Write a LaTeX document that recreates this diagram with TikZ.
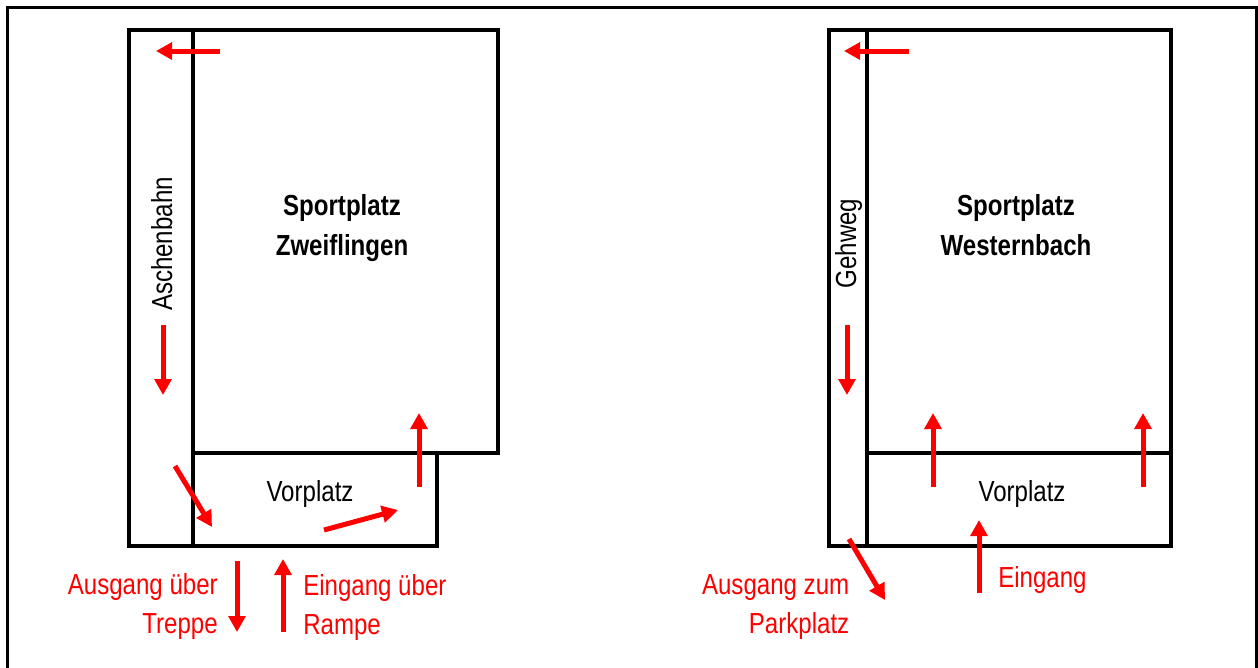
\documentclass[tikz,border=0pt]{standalone}
\usepackage{fontspec}
\setmainfont[FakeStretch=0.83]{Liberation Sans}
\usetikzlibrary{arrows.meta}
\definecolor{arrowred}{RGB}{255,0,0}
\tikzset{
  x=0.75pt,y=-0.75pt,
  wall/.style={draw=black,line width=3pt,line join=miter,line cap=butt},
  frameline/.style={draw=black,line width=2.2pt},
  flow/.style={draw=arrowred,line width=3.75pt,-{Triangle[length=12pt,width=12.5pt]}},
  lbl/.style={font=\fontsize{21.75pt}{26pt}\selectfont,inner sep=0pt,anchor=base},
  redlbl/.style={lbl,text=arrowred},
  title/.style={lbl,font=\fontsize{21.75pt}{26pt}\selectfont\bfseries},
}
\begin{document}
\begin{tikzpicture}
\useasboundingbox (0,0) rectangle (1258,668);
\draw[frameline] (7.3,668) -- (7.3,7.3) -- (1256.5,7.3) -- (1256.5,668);
% left plan
\draw[wall] (129,30) -- (498,30) -- (498,453) -- (437,453) -- (437,546) -- (129,546) -- cycle;
\draw[wall] (193,453) -- (437,453);
\draw[wall] (193,30) -- (193,546);
% right plan
\draw[wall] (829,30) rectangle (1171,546);
\draw[wall] (867,30) -- (867,546);
\draw[wall] (867,453) -- (1171,453);
% labels
\node[lbl,rotate=90] (asche) at (172,244) {Aschenbahn};
\node[lbl,rotate=90] (geh) at (856,243.5) {Gehweg};
\node[title] (t1) at (342,215) {Sportplatz};
\node[title] (t2) at (342,255) {Zweiflingen};
\node[title] (t3) at (1016,215) {Sportplatz};
\node[title] (t4) at (1016,255) {Westernbach};
\node[lbl] (v1) at (310,501.5) {Vorplatz};
\node[lbl] (v2) at (1022,501.5) {Vorplatz};
\node[redlbl,anchor=base east] (a1) at (218,594) {Ausgang über};
\node[redlbl,anchor=base east] (a2) at (218,633) {Treppe};
\node[redlbl,anchor=base west] (e1) at (303,595) {Eingang über};
\node[redlbl,anchor=base west] (e2) at (303,634) {Rampe};
\node[redlbl,anchor=base east] (a3) at (849.5,594) {Ausgang zum};
\node[redlbl,anchor=base east] (a4) at (849.5,633) {Parkplatz};
\node[redlbl,anchor=base west] (e3) at (998,587) {Eingang};
% arrows, left plan
\draw[flow] (220,51) -- (156,51);
\draw[flow] (163,325) -- (163,395);
\draw[flow] (175,466) -- (212,527);
\draw[flow] (324,530) -- (398,510);
\draw[flow] (419,487) -- (419,413);
\draw[flow] (237,561) -- (237,632);
\draw[flow] (283,632) -- (283,559);
% arrows, right plan
\draw[flow] (909,51) -- (844,51);
\draw[flow] (847,325) -- (847,395);
\draw[flow] (933,487) -- (933,413);
\draw[flow] (1143,487) -- (1143,413);
\draw[flow] (849,539) -- (885,600);
\draw[flow] (979,593) -- (979,520);
\end{tikzpicture}
\end{document}
